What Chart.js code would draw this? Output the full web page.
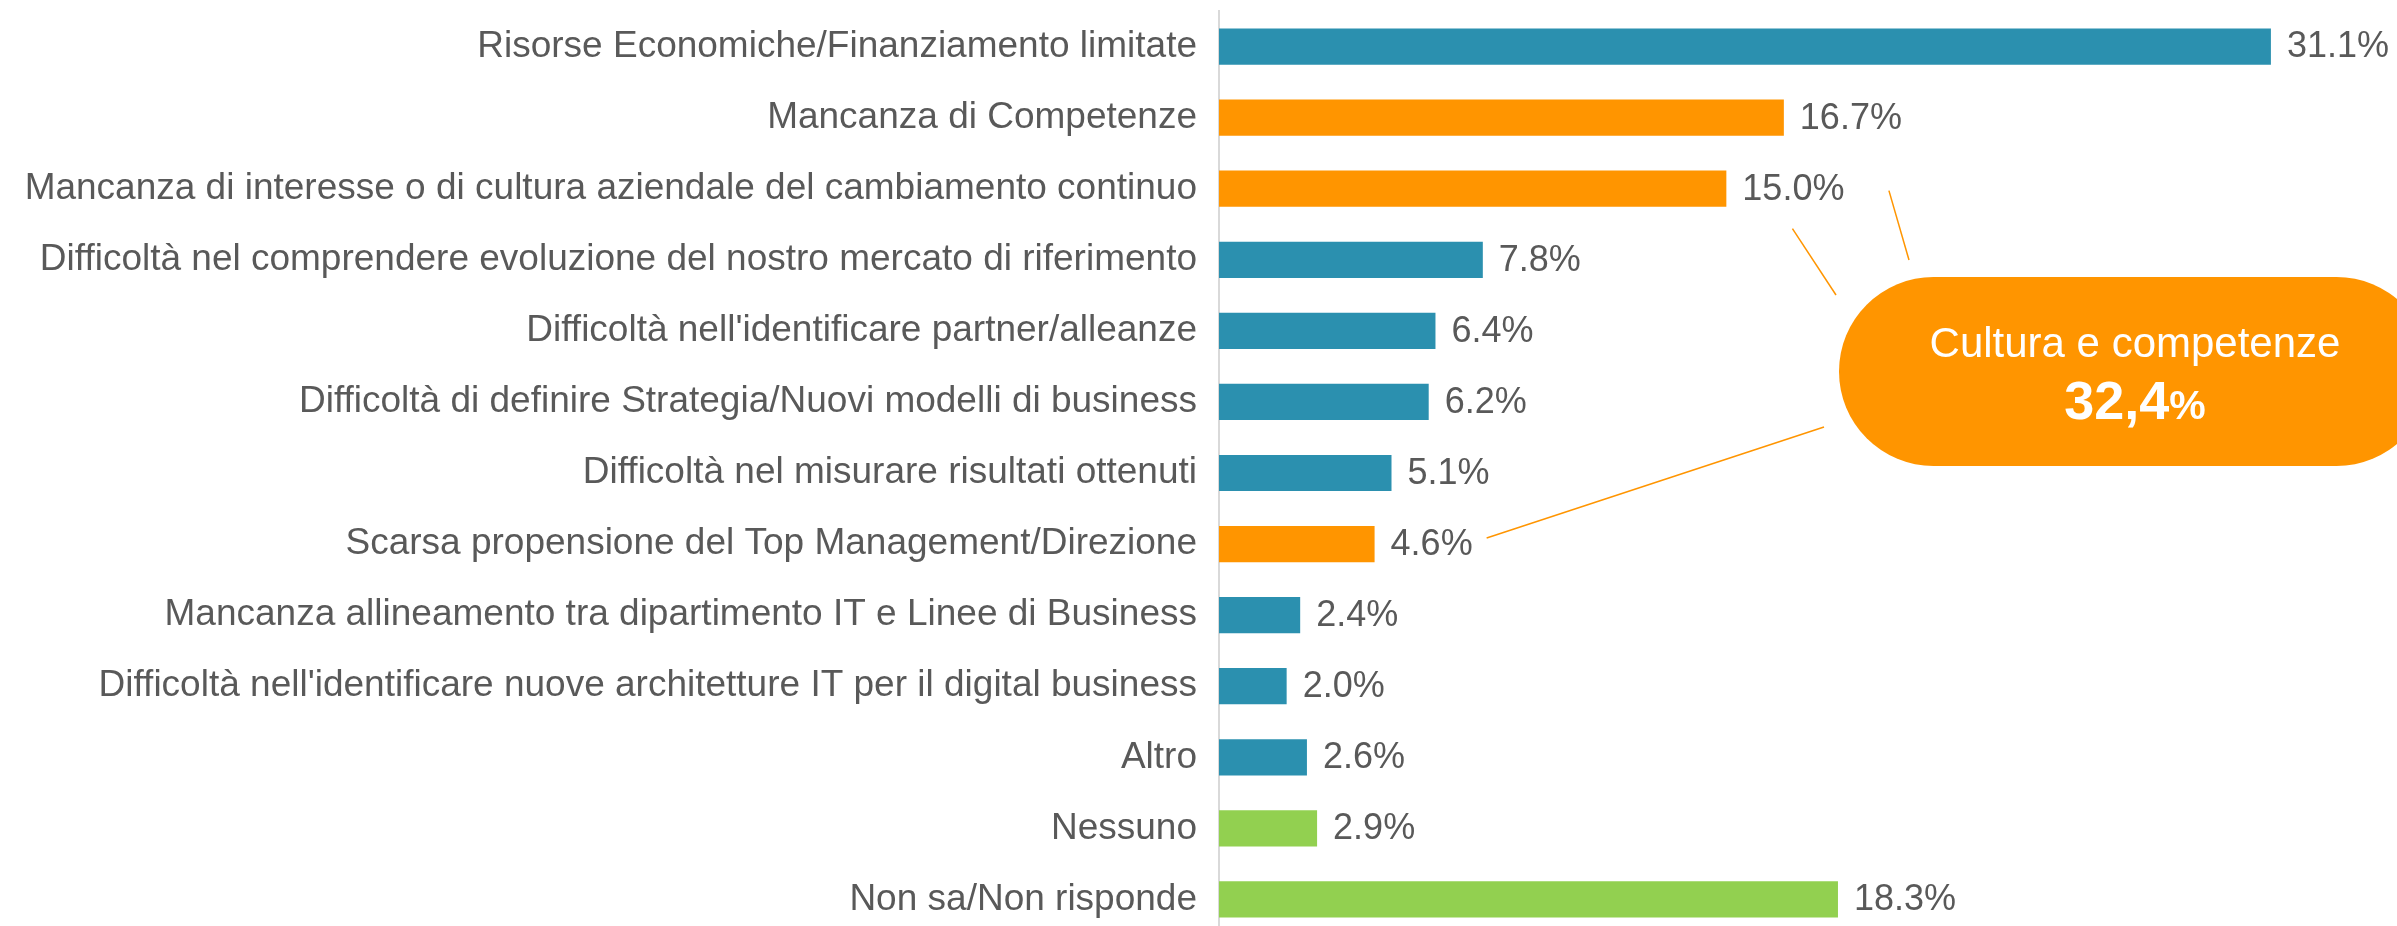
<!DOCTYPE html>
<html>

<head>
    <title>Ostacoli alla trasformazione digitale</title>
    <script src="https://cdn.jsdelivr.net/npm/chart.js"></script>
    <style>
        html,
        body {
            margin: 0;
            padding: 0;
            background: #fff;
            overflow: hidden;
        }

        #wrap {
            width: 2397px;
            height: 926px;
            overflow: hidden;
        }
    </style>
</head>

<body>
    <div id="wrap">
        <canvas id="chart" width="2397" height="936"></canvas>
    </div>

    <script>
        const categories = [
            'Risorse Economiche/Finanziamento limitate',
            'Mancanza di Competenze',
            'Mancanza di interesse o di cultura aziendale del cambiamento continuo',
            'Difficoltà nel comprendere evoluzione del nostro mercato di riferimento',
            "Difficoltà nell'identificare partner/alleanze",
            'Difficoltà di definire Strategia/Nuovi modelli di business',
            'Difficoltà nel misurare risultati ottenuti',
            'Scarsa propensione del Top Management/Direzione',
            'Mancanza allineamento tra dipartimento IT e Linee di Business',
            "Difficoltà nell'identificare nuove architetture IT per il digital business",
            'Altro',
            'Nessuno',
            'Non sa/Non risponde'
        ];
        const values = [31.1, 16.7, 15.0, 7.8, 6.4, 6.2, 5.1, 4.6, 2.4, 2.0, 2.6, 2.9, 18.3];
        const groups = ['base', 'cultura', 'cultura', 'base', 'base', 'base', 'base', 'cultura', 'base', 'base', 'base', 'nessuno', 'nessuno'];
        const groupColors = { base: '#2B90AF', cultura: '#FF9500', nessuno: '#92D050' };

        const calloutTitle = 'Cultura e competenze';
        const calloutValue = '32,4';
        const calloutLinked = [1, 2, 7]; // bars summed in the callout

        const textGray = '#595959';
        const fontFamily = '"Liberation Sans", Arial, sans-serif';

        // value labels at the end of each bar
        const valueLabels = {
            id: 'valueLabels',
            afterDatasetsDraw(chart) {
                const ctx = chart.ctx;
                const meta = chart.getDatasetMeta(0);
                ctx.save();
                ctx.font = '36px ' + fontFamily;
                ctx.fillStyle = textGray;
                ctx.textAlign = 'left';
                ctx.textBaseline = 'middle';
                meta.data.forEach((bar, i) => {
                    ctx.fillText(values[i].toFixed(1) + '%', bar.x + 16, bar.y + 1);
                });
                ctx.restore();
            }
        };

        // orange pill with leader lines
        const callout = {
            id: 'callout',
            afterDraw(chart) {
                const ctx = chart.ctx;
                const meta = chart.getDatasetMeta(0);
                const left = 1839, top = 277, h = 189, right = 2431;
                const r = h / 2;

                ctx.save();
                ctx.font = '36px ' + fontFamily;

                // leader lines, starting near the linked value labels
                const labelBox = (i) => {
                    const bar = meta.data[i];
                    const w = ctx.measureText(values[i].toFixed(1) + '%').width;
                    return { x0: bar.x + 16, x1: bar.x + 16 + w, y: bar.y };
                };
                const a = labelBox(calloutLinked[0]);
                const b = labelBox(calloutLinked[1]);
                const c = labelBox(calloutLinked[2]);
                const lines = [
                    [a.x1 - 13, a.y + 73, 1909, 260],
                    [b.x1 - 52, b.y + 40, 1836, 295],
                    [c.x1 + 14, c.y - 6, 1824, 427]
                ];
                ctx.strokeStyle = groupColors.cultura;
                ctx.lineWidth = 1.5;
                lines.forEach(l => {
                    ctx.beginPath();
                    ctx.moveTo(l[0], l[1]);
                    ctx.lineTo(l[2], l[3]);
                    ctx.stroke();
                });

                // pill
                ctx.fillStyle = groupColors.cultura;
                ctx.beginPath();
                ctx.moveTo(left + r, top);
                ctx.lineTo(right - r, top);
                ctx.arc(right - r, top + r, r, -Math.PI / 2, Math.PI / 2);
                ctx.lineTo(left + r, top + h);
                ctx.arc(left + r, top + r, r, Math.PI / 2, Math.PI * 1.5);
                ctx.closePath();
                ctx.fill();

                // text
                const cx = (left + right) / 2;
                ctx.fillStyle = '#fff';
                ctx.textBaseline = 'alphabetic';
                ctx.textAlign = 'center';
                ctx.font = '42px ' + fontFamily;
                ctx.fillText(calloutTitle, cx, 357);

                const numFont = 'bold 54px ' + fontFamily;
                const pctFont = 'bold 41px ' + fontFamily;
                ctx.font = numFont;
                const wNum = ctx.measureText(calloutValue).width;
                ctx.font = pctFont;
                const wPct = ctx.measureText('%').width;
                const start = cx - (wNum + wPct) / 2;
                ctx.textAlign = 'left';
                ctx.font = numFont;
                ctx.fillText(calloutValue, start, 419);
                ctx.font = pctFont;
                ctx.fillText('%', start + wNum, 419);
                ctx.restore();
            }
        };

        const ctx = document.getElementById('chart').getContext('2d');

        new Chart(ctx, {
            type: 'bar',
            data: {
                labels: categories,
                datasets: [{
                    data: values,
                    backgroundColor: groups.map(g => groupColors[g]),
                    borderWidth: 0,
                    barPercentage: 0.51,
                    categoryPercentage: 1
                }]
            },
            options: {
                indexAxis: 'y',
                responsive: false,
                animation: false,
                layout: {
                    padding: { top: 11, bottom: 1, left: 0, right: 28 }
                },
                plugins: {
                    legend: { display: false },
                    tooltip: { enabled: false }
                },
                scales: {
                    x: {
                        display: false,
                        min: 0,
                        max: 34
                    },
                    y: {
                        afterFit: (axis) => {
                            axis.width = 1219;
                            axis.paddingTop = 0;
                            axis.paddingBottom = 0;
                        },
                        grid: { display: false, drawTicks: false },
                        border: { display: true, color: '#d9d9d9', width: 2 },
                        ticks: {
                            color: textGray,
                            font: { family: fontFamily, size: 37 },
                            padding: 22,
                            autoSkip: false
                        }
                    }
                }
            },
            plugins: [valueLabels, callout]
        });
    </script>
</body>

</html>
